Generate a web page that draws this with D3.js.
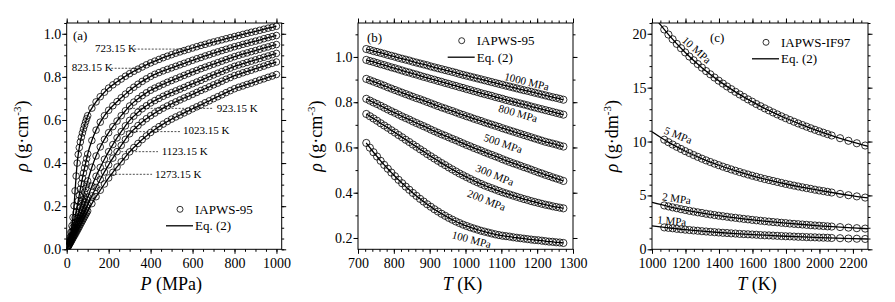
<!DOCTYPE html>
<html>
<head>
<meta charset="utf-8">
<script src="https://cdn.jsdelivr.net/npm/d3@7"></script>
<style>
  body { margin: 0; background: #fff; }
  svg text { fill: #000; }
</style>
</head>
<body>
<svg id="chart" width="895" height="302"></svg>
<script>
// ---------- panel (a): isotherms, density vs pressure ----------
const pressA = [5,10,15,20,25,30,35,40,45,50,55,60,65,70,75,80,85,90,95,100,
  120,140,160,180,200,220,240,260,280,300,320,340,360,380,400,420,440,460,480,500,
  520,540,560,580,600,620,640,660,680,700,720,740,760,780,800,820,840,860,880,900,
  920,940,960,980,1000];
const rhoA723 = [0.016,0.034,0.054,0.079,0.109,0.148,0.202,0.271,0.340,0.400,0.440,0.472,0.498,0.520,0.540,0.558,0.575,0.591,0.606,0.620,
  0.655,0.684,0.708,0.729,0.748,0.763,0.777,0.790,0.803,0.815,0.826,0.836,0.846,0.856,0.865,0.873,0.881,0.889,0.896,0.903,
  0.910,0.916,0.922,0.928,0.934,0.940,0.946,0.951,0.957,0.962,0.967,0.972,0.977,0.982,0.987,0.992,0.997,1.002,1.007,1.011,
  1.016,1.021,1.026,1.030,1.035];
const rhoA823 = [0.014,0.028,0.044,0.061,0.080,0.101,0.123,0.147,0.172,0.198,0.225,0.252,0.279,0.305,0.330,0.354,0.377,0.399,0.421,0.442,
  0.505,0.553,0.590,0.620,0.645,0.666,0.685,0.703,0.720,0.737,0.752,0.766,0.779,0.791,0.802,0.812,0.820,0.828,0.835,0.842,
  0.849,0.856,0.863,0.870,0.877,0.884,0.890,0.897,0.903,0.910,0.916,0.922,0.928,0.934,0.940,0.945,0.951,0.956,0.961,0.966,
  0.971,0.977,0.982,0.987,0.992];
const rhoA923 = [0.012,0.024,0.036,0.051,0.065,0.080,0.095,0.111,0.127,0.143,0.160,0.177,0.194,0.212,0.229,0.247,0.265,0.282,0.300,0.317,
  0.381,0.433,0.475,0.510,0.541,0.569,0.595,0.620,0.643,0.665,0.683,0.699,0.713,0.726,0.738,0.748,0.757,0.766,0.775,0.783,
  0.791,0.799,0.807,0.815,0.823,0.830,0.838,0.845,0.852,0.859,0.866,0.873,0.880,0.887,0.894,0.900,0.906,0.911,0.917,0.922,
  0.928,0.934,0.939,0.945,0.950];
const rhoA1023 = [0.011,0.021,0.032,0.044,0.055,0.067,0.079,0.091,0.104,0.116,0.129,0.142,0.155,0.168,0.181,0.194,0.207,0.219,0.231,0.242,
  0.293,0.339,0.380,0.418,0.453,0.486,0.517,0.546,0.573,0.598,0.618,0.636,0.652,0.666,0.679,0.690,0.700,0.710,0.719,0.727,
  0.735,0.743,0.751,0.760,0.768,0.776,0.784,0.793,0.801,0.809,0.817,0.825,0.833,0.841,0.849,0.855,0.861,0.867,0.873,0.879,
  0.885,0.891,0.897,0.903,0.909];
const rhoA1123 = [0.010,0.019,0.029,0.039,0.049,0.059,0.069,0.080,0.090,0.100,0.111,0.121,0.132,0.142,0.153,0.163,0.174,0.185,0.195,0.206,
  0.248,0.287,0.324,0.359,0.392,0.423,0.453,0.482,0.510,0.536,0.556,0.574,0.591,0.606,0.620,0.632,0.644,0.655,0.665,0.675,
  0.684,0.693,0.702,0.710,0.719,0.728,0.737,0.745,0.754,0.763,0.771,0.780,0.789,0.797,0.806,0.812,0.819,0.825,0.831,0.838,
  0.844,0.850,0.857,0.863,0.869];
const rhoA1273 = [0.009,0.017,0.026,0.034,0.043,0.052,0.061,0.069,0.078,0.087,0.096,0.105,0.115,0.124,0.133,0.142,0.151,0.160,0.169,0.178,
  0.212,0.244,0.274,0.303,0.331,0.357,0.382,0.406,0.429,0.452,0.472,0.491,0.509,0.526,0.542,0.556,0.569,0.581,0.593,0.604,
  0.614,0.623,0.633,0.642,0.652,0.661,0.670,0.680,0.689,0.699,0.708,0.717,0.727,0.736,0.745,0.752,0.758,0.765,0.771,0.778,
  0.785,0.791,0.798,0.804,0.811];
const isothermLabels = ['723.15 K','823.15 K','923.15 K','1023.15 K','1123.15 K','1273.15 K'];

// ---------- panel (b): isobars, density vs temperature ----------
const tempB = [723.15,733.15,743.15,753.15,763.15,773.15,783.15,793.15,803.15,813.15,
  823.15,833.15,843.15,853.15,863.15,873.15,883.15,893.15,903.15,913.15,
  923.15,933.15,943.15,953.15,963.15,973.15,983.15,993.15,1003.15,1013.15,
  1023.15,1033.15,1043.15,1053.15,1063.15,1073.15,1083.15,1093.15,1103.15,1113.15,
  1123.15,1133.15,1143.15,1153.15,1163.15,1173.15,1183.15,1193.15,1203.15,1213.15,
  1223.15,1233.15,1243.15,1253.15,1263.15,1273.15];
const rhoB1000 = [1.035,1.031,1.026,1.022,1.018,1.014,1.009,1.005,1.001,0.996,0.992,
  0.988,0.984,0.979,0.975,0.971,0.967,0.963,0.958,0.954,0.950,
  0.946,0.942,0.938,0.934,0.930,0.925,0.921,0.917,0.913,0.909,
  0.905,0.901,0.897,0.893,0.889,0.885,0.881,0.877,0.873,0.869,
  0.865,0.861,0.857,0.853,0.850,0.846,0.842,0.838,0.834,0.830,
  0.826,0.822,0.819,0.815,0.811];
const rhoB800 = [0.987,0.982,0.978,0.973,0.968,0.964,0.959,0.954,0.950,0.945,0.940,
  0.935,0.931,0.926,0.922,0.917,0.912,0.908,0.903,0.899,0.894,
  0.890,0.885,0.881,0.876,0.872,0.867,0.863,0.858,0.854,0.849,
  0.845,0.840,0.836,0.832,0.828,0.823,0.819,0.815,0.810,0.806,
  0.802,0.798,0.794,0.790,0.786,0.781,0.777,0.773,0.769,0.765,
  0.761,0.757,0.753,0.749,0.745];
const rhoB500 = [0.903,0.897,0.891,0.885,0.879,0.873,0.866,0.860,0.854,0.848,0.842,
  0.836,0.830,0.824,0.818,0.813,0.807,0.801,0.795,0.789,0.783,
  0.777,0.772,0.766,0.761,0.755,0.749,0.744,0.738,0.733,0.727,
  0.722,0.717,0.711,0.706,0.701,0.696,0.691,0.685,0.680,0.675,
  0.670,0.665,0.660,0.655,0.650,0.645,0.640,0.635,0.630,0.625,
  0.621,0.617,0.613,0.608,0.604];
const rhoB300 = [0.815,0.807,0.799,0.792,0.784,0.776,0.768,0.760,0.753,0.745,0.737,
  0.730,0.723,0.715,0.708,0.701,0.694,0.687,0.679,0.672,0.665,
  0.658,0.652,0.645,0.638,0.632,0.625,0.618,0.611,0.605,0.598,
  0.592,0.586,0.579,0.573,0.567,0.561,0.555,0.548,0.542,0.536,
  0.530,0.525,0.519,0.513,0.508,0.502,0.496,0.490,0.485,0.479,
  0.474,0.468,0.463,0.458,0.452];
const rhoB200 = [0.748,0.738,0.728,0.718,0.707,0.697,0.687,0.676,0.666,0.655,0.645,
  0.634,0.624,0.613,0.603,0.592,0.582,0.571,0.561,0.551,0.541,
  0.531,0.522,0.512,0.503,0.494,0.485,0.477,0.469,0.461,0.453,
  0.446,0.439,0.432,0.426,0.420,0.414,0.408,0.402,0.397,0.392,
  0.387,0.382,0.377,0.372,0.368,0.363,0.359,0.355,0.351,0.347,
  0.344,0.340,0.337,0.334,0.331];
const rhoB100 = [0.620,0.599,0.579,0.560,0.541,0.523,0.506,0.489,0.473,0.457,0.442,
  0.427,0.413,0.399,0.386,0.373,0.361,0.349,0.338,0.327,0.317,
  0.307,0.298,0.289,0.281,0.273,0.266,0.259,0.253,0.247,0.242,
  0.237,0.232,0.228,0.224,0.220,0.216,0.213,0.210,0.208,0.206,
  0.203,0.201,0.199,0.197,0.195,0.193,0.191,0.190,0.188,0.186,
  0.184,0.183,0.181,0.180,0.178];
const isobarLabelsB = ['1000 MPa','800 MPa','500 MPa','300 MPa','200 MPa','100 MPa'];

// ---------- panel (c): low pressure isobars (g/dm3) ----------
const tempC = [1073.15,1098.15,1123.15,1148.15,1173.15,1198.15,1223.15,1248.15,1273.15,1298.15,
  1323.15,1348.15,1373.15,1398.15,1423.15,1448.15,1473.15,1498.15,1523.15,1548.15,
  1573.15,1598.15,1623.15,1648.15,1673.15,1698.15,1723.15,1748.15,1773.15,1798.15,
  1823.15,1848.15,1873.15,1898.15,1923.15,1948.15,1973.15,1998.15,2023.15,2048.15,
  2073.15,2123.15,2173.15,2223.15,2273.15];
const rhoC10 = [20.40,19.93,19.49,19.06,18.66,18.27,17.89,17.54,17.19,16.86,
  16.54,16.24,15.94,15.65,15.38,15.11,14.86,14.61,14.37,14.14,
  13.91,13.70,13.48,13.28,13.08,12.89,12.70,12.52,12.34,12.17,
  12.00,11.84,11.68,11.53,11.38,11.23,11.09,10.95,10.82,10.69,
  10.56,10.31,10.07,9.84,9.63];
const rhoC5 = [10.17,9.94,9.72,9.51,9.31,9.11,8.93,8.75,8.58,8.41,
  8.25,8.10,7.95,7.81,7.67,7.54,7.41,7.29,7.17,7.05,
  6.94,6.83,6.73,6.62,6.52,6.43,6.34,6.25,6.16,6.07,
  5.99,5.91,5.83,5.75,5.68,5.61,5.53,5.46,5.40,5.33,
  5.27,5.14,5.02,4.91,4.80];
const rhoC2 = [4.07,3.98,3.89,3.81,3.72,3.65,3.57,3.50,3.43,3.37,
  3.30,3.24,3.18,3.12,3.07,3.02,2.96,2.92,2.87,2.82,
  2.78,2.73,2.69,2.65,2.61,2.57,2.53,2.50,2.46,2.43,
  2.39,2.36,2.33,2.30,2.27,2.24,2.21,2.19,2.16,2.13,
  2.11,2.06,2.01,1.96,1.92];
const rhoC1 = [2.03,1.99,1.95,1.90,1.86,1.82,1.79,1.75,1.72,1.68,
  1.65,1.62,1.59,1.56,1.53,1.51,1.48,1.46,1.43,1.41,
  1.39,1.37,1.35,1.32,1.30,1.29,1.27,1.25,1.23,1.21,
  1.20,1.18,1.16,1.15,1.13,1.12,1.11,1.09,1.08,1.07,
  1.05,1.03,1.00,0.98,0.96];
// Eq. (2) curves in (c), drawn over the whole axis range
const lineTempC = [1000,1050,1100,1200,1300,1400,1500,1600,1700,1800,1900,2000,2100,2200,2300];
const lineC10 = [21.89,20.84,19.90,18.24,16.83,15.63,14.59,13.68,12.87,12.16,11.52,10.94,10.42,9.95,9.52];
const lineC5 = [10.91,10.40,9.92,9.10,8.40,7.80,7.28,6.82,6.42,6.06,5.74,5.46,5.20,4.96,4.75];
const lineC2 = [4.37,4.16,3.97,3.64,3.36,3.12,2.91,2.73,2.57,2.43,2.30,2.18,2.08,1.99,1.90];
const lineC1 = [2.18,2.08,1.99,1.82,1.68,1.56,1.46,1.37,1.29,1.21,1.15,1.09,1.04,0.99,0.95];
const isobarLabelsC = ['10 MPa','5 MPa','2 MPa','1 MPa'];

// tick labels
const ticksAx = [0,200,400,600,800,1000];
const ticksAy = [0,0.2,0.4,0.6,0.8,1.0];
const ticksBx = [700,800,900,1000,1100,1200,1300];
const ticksBy = [0.2,0.4,0.6,0.8,1.0];
const ticksCx = [1000,1200,1400,1600,1800,2000,2200];
const ticksCy = [0,5,10,15,20];

const FONT = '"Liberation Serif", "Times New Roman", serif';
const svg = d3.select('#chart').style('font-family', FONT);
const defs = svg.append('defs');

function makePanel(cfg) {
  let p = Object.assign({}, cfg);
  p.x = d3.scaleLinear().domain(cfg.xDomain).range([cfg.left, cfg.right]);
  p.y = d3.scaleLinear().domain(cfg.yDomain).range([cfg.bottom, cfg.top]);

  defs.append('clipPath').attr('id', cfg.id + '-clip')
    .append('rect')
    .attr('x', cfg.left).attr('y', cfg.top)
    .attr('width', cfg.right - cfg.left).attr('height', cfg.bottom - cfg.top);

  const sides = [
    { make: d3.axisBottom, s: p.x, t: `translate(0,${cfg.bottom})`, major: cfg.xMajor, minor: cfg.xMinor, fmt: cfg.xFmt, pad: 4 },
    { make: d3.axisTop,    s: p.x, t: `translate(0,${cfg.top})`,    major: cfg.xMajor, minor: cfg.xMinor, fmt: null },
    { make: d3.axisLeft,   s: p.y, t: `translate(${cfg.left},0)`,   major: cfg.yMajor, minor: cfg.yMinor, fmt: cfg.yFmt, pad: 1 },
    { make: d3.axisRight,  s: p.y, t: `translate(${cfg.right},0)`,  major: cfg.yMajor, minor: cfg.yMinor, fmt: null }
  ];
  sides.forEach(a => {
    svg.append('g').attr('transform', a.t)
      .call(a.make(a.s).tickValues(a.minor).tickSize(2.5).tickFormat(() => ''))
      .call(g => g.select('.domain').remove());
    svg.append('g').attr('transform', a.t)
      .call(a.make(a.s).tickValues(a.major).tickSize(4.5).tickPadding(a.pad || 2)
        .tickFormat(a.fmt ? a.fmt : () => ''))
      .attr('font-family', FONT).attr('font-size', 14)
      .call(g => g.select('.domain').remove());
  });

  svg.append('rect')
    .attr('x', cfg.left).attr('y', cfg.top)
    .attr('width', cfg.right - cfg.left).attr('height', cfg.bottom - cfg.top)
    .attr('fill', 'none').attr('stroke', '#000').attr('stroke-width', 1);

  p.plot = svg.append('g').attr('clip-path', `url(#${cfg.id}-clip)`);
  return p;
}

function drawCircles(p, xs, ys, r) {
  p.plot.append('g').selectAll('circle')
    .data(xs.map((v, i) => [v, ys[i]]))
    .join('circle')
    .attr('cx', d => p.x(d[0]))
    .attr('cy', d => p.y(d[1]))
    .attr('r', r)
    .attr('fill', 'none')
    .attr('stroke', '#000')
    .attr('stroke-width', 0.8);
}

function drawLine(p, xs, ys) {
  const line = d3.line().x(d => p.x(d[0])).y(d => p.y(d[1])).curve(d3.curveMonotoneX);
  p.plot.append('path')
    .datum(xs.map((v, i) => [v, ys[i]]))
    .attr('d', line)
    .attr('fill', 'none')
    .attr('stroke', '#000')
    .attr('stroke-width', 1.3);
}

function yTitle(p, xPos, unit) {
  const t = svg.append('text')
    .attr('transform', `translate(${xPos},${(p.top + p.bottom) / 2}) rotate(-90)`)
    .attr('text-anchor', 'middle')
    .attr('font-size', 18);
  t.append('tspan').attr('font-style', 'italic').text('ρ');
  t.append('tspan').text(` (g·${unit}`);
  t.append('tspan').attr('dy', -7).attr('font-size', 11).text('-3');
  t.append('tspan').attr('dy', 7).text(')');
}

function xTitle(p, sym, unit) {
  const t = svg.append('text')
    .attr('x', (p.left + p.right) / 2 - 3)
    .attr('y', 290)
    .attr('text-anchor', 'middle')
    .attr('font-size', 18);
  t.append('tspan').attr('font-style', 'italic').text(sym);
  t.append('tspan').text(` (${unit})`);
}

function legend(p, cx, cy, name) {
  svg.append('circle').attr('cx', cx).attr('cy', cy).attr('r', 3)
    .attr('fill', 'none').attr('stroke', '#000').attr('stroke-width', 0.8);
  svg.append('text').attr('x', cx + 15).attr('y', cy + 4.5).attr('font-size', 13).text(name);
  svg.append('line').attr('x1', cx - 14).attr('x2', cx + 13)
    .attr('y1', cy + 16.5).attr('y2', cy + 16.5)
    .attr('stroke', '#000').attr('stroke-width', 1.3);
  svg.append('text').attr('x', cx + 15).attr('y', cy + 21).attr('font-size', 13).text('Eq. (2)');
}

function panelTag(x, y, s) {
  svg.append('text').attr('x', x).attr('y', y).attr('font-size', 13).text(s);
}

// rotated curve labels, positioned in data coordinates
function curveLabel(p, xv, yv, angle, s) {
  svg.append('text')
    .attr('transform', `translate(${p.x(xv)},${p.y(yv)}) rotate(${angle})`)
    .attr('text-anchor', 'middle')
    .attr('dominant-baseline', 'central')
    .attr('font-size', 11)
    .text(s);
}

// ---------- (a) ----------
const pa = makePanel({
  id: 'a', left: 66.7, right: 281.7, top: 23, bottom: 249.3,
  xDomain: [0, 1025], yDomain: [0, 1.05],
  xMajor: ticksAx, xMinor: d3.range(0, 1025, 50), xFmt: d3.format('d'),
  yMajor: ticksAy, yMinor: d3.range(0, 1.051, 0.05), yFmt: d3.format('.1f')
});
const seriesA = [rhoA723, rhoA823, rhoA923, rhoA1023, rhoA1123, rhoA1273];
seriesA.forEach(s => drawCircles(pa, pressA, s, 3.3));
seriesA.forEach(s => drawLine(pa, [0].concat(pressA), [0].concat(s)));

// leader annotations for the isotherms: [label, textP, textRho, leaderP1, leaderP2, leaderRho]
const leadersA = [
  [isothermLabels[0], 135, 0.916, 322, 565, 0.929],
  [isothermLabels[1], 24, 0.827, 212, 345, 0.840],
  [isothermLabels[2], 715, 0.636, 300, 697, 0.654],
  [isothermLabels[3], 554, 0.534, 280, 540, 0.546],
  [isothermLabels[4], 453, 0.438, 260, 435, 0.453],
  [isothermLabels[5], 421, 0.332, 215, 407, 0.348]
];
leadersA.forEach(l => {
  svg.append('line')
    .attr('x1', pa.x(l[3])).attr('x2', pa.x(l[4]))
    .attr('y1', pa.y(l[5])).attr('y2', pa.y(l[5]))
    .attr('stroke', '#000').attr('stroke-width', 0.7)
    .attr('stroke-dasharray', '2,1.5');
  svg.append('text').attr('x', pa.x(l[1])).attr('y', pa.y(l[2]))
    .attr('font-size', 11).text(l[0]);
});
panelTag(73, 40, '(a)');
legend(pa, 180, 209.3, 'IAPWS-95');
yTitle(pa, 28, 'cm');
xTitle(pa, 'P', 'MPa');

// ---------- (b) ----------
const pb = makePanel({
  id: 'b', left: 358, right: 573, top: 23, bottom: 249.3,
  xDomain: [700, 1300], yDomain: [0.15, 1.15],
  xMajor: ticksBx, xMinor: d3.range(700, 1301, 20), xFmt: d3.format('d'),
  yMajor: ticksBy, yMinor: d3.range(0.2, 1.15, 0.1), yFmt: d3.format('.1f')
});
const seriesB = [rhoB1000, rhoB800, rhoB500, rhoB300, rhoB200, rhoB100];
seriesB.forEach(s => drawCircles(pb, tempB, s, 3.6));
seriesB.forEach(s => drawLine(pb, tempB, s));
const labelPosB = [[1171, 0.892, 14], [1147, 0.752, 16], [1105, 0.619, 19], [1082, 0.479, 22], [1059, 0.368, 22], [1017, 0.194, 15]];
labelPosB.forEach((l, i) => curveLabel(pb, l[0], l[1], l[2], isobarLabelsB[i]));
panelTag(367, 42, '(b)');
legend(pb, 461.7, 40.7, 'IAPWS-95');
yTitle(pb, 322, 'cm');
xTitle(pb, 'T', 'K');

// ---------- (c) ----------
const pc = makePanel({
  id: 'c', left: 652, right: 868, top: 23, bottom: 249.3,
  xDomain: [1000, 2290], yDomain: [0, 21],
  xMajor: ticksCx, xMinor: d3.range(1000, 2291, 50), xFmt: d3.format('d'),
  yMajor: ticksCy, yMinor: d3.range(0, 21.01, 1), yFmt: d3.format('d')
});
const seriesC = [rhoC10, rhoC5, rhoC2, rhoC1];
const linesC = [lineC10, lineC5, lineC2, lineC1];
seriesC.forEach(s => drawCircles(pc, tempC, s, 3.6));
linesC.forEach(s => drawLine(pc, lineTempC, s));
const labelPosC = [[1267, 18.52, 42], [1157, 10.62, 22], [1147, 4.74, 8], [1118, 2.66, 5]];
labelPosC.forEach((l, i) => curveLabel(pc, l[0], l[1], l[2], isobarLabelsC[i]));
panelTag(710, 42, '(c)');
legend(pc, 766, 42.3, 'IAPWS-IF97');
yTitle(pc, 618, 'dm');
xTitle(pc, 'T', 'K');
</script>
</body>
</html>
